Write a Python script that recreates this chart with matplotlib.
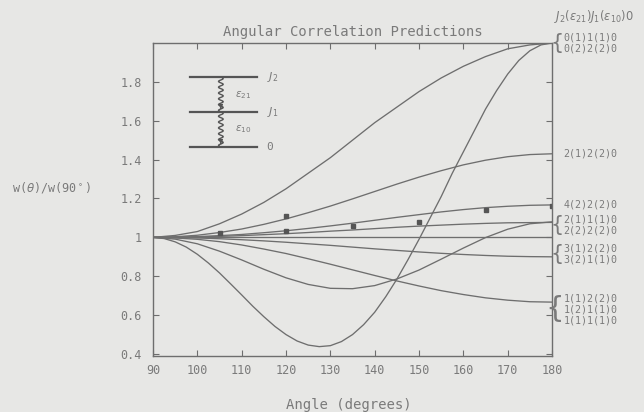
import numpy as np
import matplotlib
matplotlib.use('Agg')
import matplotlib.pyplot as plt

angles = [90, 95, 100, 105, 110, 115, 120, 125, 130, 135,
          140, 145, 150, 155, 160, 165, 170, 175, 180]
# finer reading for the deep curve
angles_fine = [90, 92.5, 95, 97.5, 100, 102.5, 105, 107.5, 110, 112.5,
               115, 117.5, 120, 122.5, 125, 127.5, 130, 132.5, 135, 137.5,
               140, 142.5, 145, 147.5, 150, 152.5, 155, 157.5, 160, 162.5,
               165, 167.5, 170, 172.5, 175, 177.5, 180]

# W(theta)/W(90), one list per curve
w_0110 = [1.0, 1.01, 1.03, 1.07, 1.12, 1.18, 1.25, 1.33, 1.41, 1.50,
          1.59, 1.67, 1.75, 1.82, 1.88, 1.93, 1.97, 1.99, 2.0]
w_0220 = [1.0, 0.994, 0.977, 0.950, 0.913, 0.868, 0.817, 0.761, 0.704, 0.646,
          0.592, 0.542, 0.500, 0.467, 0.446, 0.438, 0.443, 0.464, 0.500, 0.551,
          0.615, 0.695, 0.785, 0.885, 0.990, 1.100, 1.210, 1.330, 1.440, 1.550,
          1.660, 1.755, 1.840, 1.910, 1.960, 1.990, 2.0]
w_2120 = [1.0, 1.003, 1.011, 1.025, 1.043, 1.067, 1.095, 1.127, 1.161, 1.198,
          1.236, 1.274, 1.310, 1.343, 1.373, 1.397, 1.415, 1.426, 1.430]
w_4220 = [1.0, 1.001, 1.004, 1.009, 1.015, 1.024, 1.034, 1.046, 1.059, 1.073,
          1.088, 1.103, 1.117, 1.131, 1.143, 1.153, 1.160, 1.165, 1.167]
w_2110 = [1.0, 1.001, 1.002, 1.005, 1.009, 1.014, 1.019, 1.025, 1.032, 1.038,
          1.045, 1.052, 1.058, 1.063, 1.068, 1.072, 1.075, 1.076, 1.077]
w_2220 = [1.0, 0.991, 0.967, 0.929, 0.884, 0.836, 0.792, 0.758, 0.738, 0.736,
          0.752, 0.786, 0.832, 0.888, 0.945, 0.999, 1.042, 1.070, 1.080]
w_flat = [1.0] * 19
w_3120 = [1.0, 0.999, 0.997, 0.993, 0.988, 0.982, 0.975, 0.967, 0.959, 0.950,
          0.941, 0.933, 0.925, 0.918, 0.912, 0.907, 0.903, 0.901, 0.900]
w_1110 = [1.0, 0.997, 0.990, 0.978, 0.961, 0.940, 0.917, 0.890, 0.862, 0.833,
          0.804, 0.776, 0.750, 0.726, 0.706, 0.689, 0.677, 0.669, 0.667]

curves = [w_0110, w_2120, w_4220, w_2110, w_2220, w_flat, w_3120, w_1110]

# measured points
meas_angle = [105, 120, 120, 135, 150, 165, 180]
meas_w = [1.02, 1.11, 1.035, 1.06, 1.08, 1.14, 1.16]

x_ticks = [90, 100, 110, 120, 130, 140, 150, 160, 170, 180]
y_ticks = [0.4, 0.6, 0.8, 1.0, 1.2, 1.4, 1.6, 1.8]
y_ticklabels = ['0.4', '0.6', '0.8', '1', '1.2', '1.4', '1.6', '1.8']

# right-hand labels: (value at 180 deg, list of cascades)
end_groups = [
    (2.0, ['0(1)1(1)0', '0(2)2(2)0']),
    (1.43, ['2(1)2(2)0']),
    (1.17, ['4(2)2(2)0']),
    (1.065, ['2(1)1(1)0', '2(2)2(2)0']),
    (0.915, ['3(1)2(2)0', '3(2)1(1)0']),
    (0.63, ['1(1)2(2)0', '1(2)1(1)0', '1(1)1(1)0']),
]

bg = '#e7e7e5'
line_c = '#6e6e6e'
text_c = '#7a7a7a'
mono = 'DejaVu Sans Mono'

plt.rcParams['font.family'] = mono
plt.rcParams['mathtext.fontset'] = 'dejavusans'

fig = plt.figure(figsize=(6.44, 4.12), dpi=100, facecolor=bg)
ax = fig.add_axes([0.2376, 0.136, 0.6196, 0.7597])
ax.set_facecolor(bg)

for w in curves:
    ax.plot(angles, w, color=line_c, lw=0.95)
ax.plot(angles_fine, w_0220, color=line_c, lw=0.95)
ax.plot(meas_angle, meas_w, 's', color='#555555', ms=2.6, ls='none')

ax.set_xlim(90, 180)
ax.set_ylim(0.39, 2.0)
ax.set_xticks(x_ticks)
ax.set_yticks(y_ticks)
ax.set_yticklabels(y_ticklabels)
ax.tick_params(direction='in', length=4, width=0.8, color=line_c,
               labelcolor=text_c, labelsize=8.5, top=True, right=True,
               labelright=False, labeltop=False)
ax.tick_params(axis='x', pad=6)
ax.tick_params(axis='y', pad=8)
for s in ax.spines.values():
    s.set_color(line_c)
    s.set_linewidth(1.0)

ax.set_title('Angular Correlation Predictions', color=text_c, fontsize=10, pad=5)
fig.text(0.542, 0.017, 'Angle (degrees)', color=text_c, fontsize=10,
         ha='center', va='center')
fig.text(0.019, 0.546, r'w($\theta$)/w(90$^\circ$)', color=text_c, fontsize=8.5,
         ha='left', va='center')

# level scheme inset
tr = ax.transAxes
lv = [0.891, 0.78, 0.668]
for yy, lab in zip(lv, [r'$J_2$', r'$J_1$', '0']):
    ax.plot([0.093, 0.26], [yy, yy], color='#555555', lw=1.6, transform=tr)
    ax.text(0.285, yy, lab, color=text_c, fontsize=8, va='center', transform=tr)
for y0, y1 in [(lv[0], lv[1]), (lv[1], lv[2])]:
    t = np.linspace(0, 1, 80)
    yy = y0 + (y1 - y0) * t
    xx = 0.17 + 0.006 * np.sin(t * 2 * np.pi * 6)
    ax.plot(xx, yy, color='#555555', lw=1.0, transform=tr)
    ax.annotate('', xy=(0.17, y1), xytext=(0.17, y1 + 0.02), xycoords=tr,
                arrowprops=dict(arrowstyle='-|>', color='#555555', lw=0.8,
                                mutation_scale=6))
ax.text(0.205, 0.835, r'$\epsilon_{21}$', color=text_c, fontsize=7.5,
        va='center', transform=tr)
ax.text(0.205, 0.724, r'$\epsilon_{10}$', color=text_c, fontsize=7.5,
        va='center', transform=tr)

# right-hand cascade labels
ax.text(1.005, 1.085, r'$J_2(\epsilon_{21})J_1(\epsilon_{10})0$', color=text_c,
        fontsize=8.3, transform=tr, va='center', ha='left')
for val, names in end_groups:
    n = len(names)
    step = 0.057
    for i, nm in enumerate(names):
        yv = val + (n - 1) / 2 * step - i * step
        ax.text(182.6, yv, nm, color=text_c, fontsize=7.2, va='center',
                ha='left', clip_on=False)
    if n > 1:
        ax.text(182.7, val, '{', color=text_c, fontsize=9 + 6 * (n - 1),
                va='center', ha='right', clip_on=False, family='DejaVu Sans')

fig.savefig('out.png', dpi=100, facecolor=bg)
